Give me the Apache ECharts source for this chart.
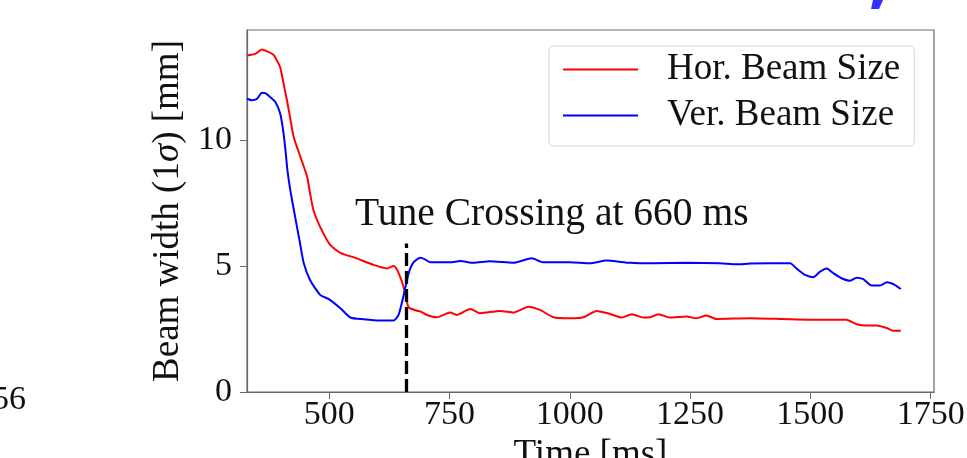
<!DOCTYPE html>
<html>
<head>
<meta charset="utf-8">
<script src="https://cdn.jsdelivr.net/npm/echarts@6/dist/echarts.min.js"></script>
<style>
  html, body { margin: 0; padding: 0; background: #fff; }
  #chart { width: 967px; height: 458px; }
</style>
</head>
<body>
<div id="chart"></div>
<script>
// time [ms] and beam width [mm]
const horTime = [329, 346, 360, 370, 384, 391, 398, 405, 412, 419, 426, 440, 454, 460, 467, 481, 502, 523, 557, 592, 620, 634, 641, 651, 658, 665, 682, 689, 703, 724, 751, 765, 793, 814, 855, 883, 914, 938, 966, 1000, 1028, 1056, 1084, 1108, 1129, 1153, 1167, 1184, 1208, 1242, 1263, 1284, 1305, 1375, 1444, 1513, 1575, 1596, 1617, 1638, 1659, 1672, 1688]
const horSize = [13.37, 13.43, 13.61, 13.54, 13.4, 13.17, 12.9, 12.25, 11.59, 10.86, 10.13, 9.34, 8.55, 7.9, 7.23, 6.56, 5.84, 5.53, 5.31, 5.05, 4.91, 5.01, 4.85, 4.38, 3.92, 3.36, 3.23, 3.2, 3.06, 2.97, 3.16, 3.06, 3.3, 3.13, 3.22, 3.16, 3.39, 3.26, 2.97, 2.93, 2.97, 3.22, 3.1, 2.96, 3.09, 2.96, 2.97, 3.09, 2.96, 3.0, 2.93, 3.04, 2.9, 2.93, 2.9, 2.87, 2.87, 2.69, 2.64, 2.64, 2.54, 2.43, 2.43]

const verTime = [329, 339, 350, 360, 367, 377, 388, 398, 404, 409, 413, 419, 429, 438, 447, 460, 481, 499, 523, 544, 571, 606, 634, 644, 654, 665, 675, 689, 699, 710, 751, 772, 800, 834, 883, 921, 945, 1000, 1042, 1076, 1125, 1173, 1242, 1312, 1347, 1375, 1416, 1458, 1471, 1489, 1506, 1520, 1534, 1548, 1565, 1583, 1596, 1610, 1627, 1645, 1659, 1672, 1688]
const verSize = [11.65, 11.59, 11.65, 11.89, 11.87, 11.72, 11.52, 11.06, 10.4, 9.6, 8.81, 8.02, 6.96, 6.04, 5.11, 4.45, 3.86, 3.69, 3.33, 2.96, 2.89, 2.84, 2.84, 3.06, 3.79, 4.72, 5.15, 5.33, 5.27, 5.15, 5.15, 5.2, 5.13, 5.19, 5.13, 5.31, 5.15, 5.15, 5.11, 5.22, 5.13, 5.11, 5.13, 5.11, 5.07, 5.1, 5.11, 5.11, 4.91, 4.65, 4.56, 4.78, 4.91, 4.72, 4.52, 4.42, 4.54, 4.48, 4.23, 4.23, 4.36, 4.29, 4.09]

const xTicks = [500, 750, 1000, 1250, 1500, 1750]
const yTicks = [0, 5, 10]
const crossingTime = 660
const crossingTop = 5.9

const serif = 'Liberation Serif'
const axisGrey = '#6a6a6a'

const chart = echarts.init(document.getElementById('chart'), null, { renderer: 'canvas' })

chart.setOption({
  animation: false,
  grid: {
    left: 247,
    right: 33,
    top: 30,
    bottom: 66,
    outerBoundsMode: 'none',
    containLabel: false,
    show: true,
    borderColor: axisGrey,
    borderWidth: 1.2
  },
  legend: {
    orient: 'vertical',
    left: 549,
    top: 46,
    padding: [5, 14, 12, 14],
    itemGap: 9,
    itemWidth: 75,
    itemHeight: 2,
    icon: 'rect',
    borderColor: '#d4d4d4',
    borderWidth: 1,
    borderRadius: 5,
    textStyle: { fontFamily: serif, fontSize: 37, color: '#111', padding: [0, 0, 0, 24] },
    data: ['Hor. Beam Size', 'Ver. Beam Size']
  },
  xAxis: {
    type: 'value',
    min: 329,
    max: 1757,
    name: 'Time [ms]',
    nameLocation: 'middle',
    nameGap: 38,
    nameTextStyle: { fontFamily: serif, fontSize: 37, color: '#111' },
    axisLine: { show: true, lineStyle: { color: axisGrey, width: 1.2 } },
    axisTick: { show: true, length: 7, customValues: xTicks, lineStyle: { color: axisGrey } },
    axisLabel: {
      customValues: xTicks,
      margin: 6,
      formatter: v => String(v),
      fontFamily: serif,
      fontSize: 34,
      color: '#111'
    },
    splitLine: { show: false }
  },
  yAxis: {
    type: 'value',
    min: 0,
    max: 14.38,
    name: '{n|Beam width (1}{s|σ}{n|) [mm]}',
    nameLocation: 'middle',
    nameGap: 60,
    nameTextStyle: {
      rich: {
        n: { fontFamily: serif, fontSize: 37, color: '#111' },
        s: { fontFamily: serif, fontSize: 37, fontStyle: 'italic', color: '#111' }
      }
    },
    axisLine: { show: true, lineStyle: { color: axisGrey, width: 1.2 } },
    axisTick: { show: true, length: 7, customValues: yTicks, lineStyle: { color: axisGrey } },
    axisLabel: {
      customValues: yTicks,
      margin: 15,
      formatter: v => String(v),
      fontFamily: serif,
      fontSize: 34,
      color: '#111'
    },
    splitLine: { show: false }
  },
  series: [
    {
      name: 'Hor. Beam Size',
      type: 'line',
      data: horTime.map((t, i) => [t, horSize[i]]),
      showSymbol: false,
      smooth: 0.2,
      color: '#ff0000',
      lineStyle: { width: 2, color: '#ff0000' }
    },
    {
      name: 'Ver. Beam Size',
      type: 'line',
      data: verTime.map((t, i) => [t, verSize[i]]),
      showSymbol: false,
      smooth: 0.2,
      color: '#0000ff',
      lineStyle: { width: 2, color: '#0000ff' },
      markLine: {
        silent: true,
        symbol: 'none',
        label: { show: false },
        lineStyle: { color: '#000', width: 3.3, type: [13, 5] },
        data: [[{ coord: [crossingTime, 0] }, { coord: [crossingTime, crossingTop] }]]
      }
    }
  ],
  graphic: [
    {
      type: 'text',
      left: 355,
      top: 195,
      style: { text: 'Tune Crossing at 660 ms', fontFamily: serif, fontSize: 39.5, fill: '#111' }
    },
    {
      type: 'text',
      x: 26,
      y: 400,
      style: { text: '56', fontFamily: serif, fontSize: 34, fill: '#111', align: 'right', verticalAlign: 'middle' }
    },
    {
      type: 'polygon',
      shape: { points: [[873, 0], [883, 0], [879, 9], [871, 9]] },
      style: { fill: '#3030ff' }
    }
  ]
})
</script>
</body>
</html>
